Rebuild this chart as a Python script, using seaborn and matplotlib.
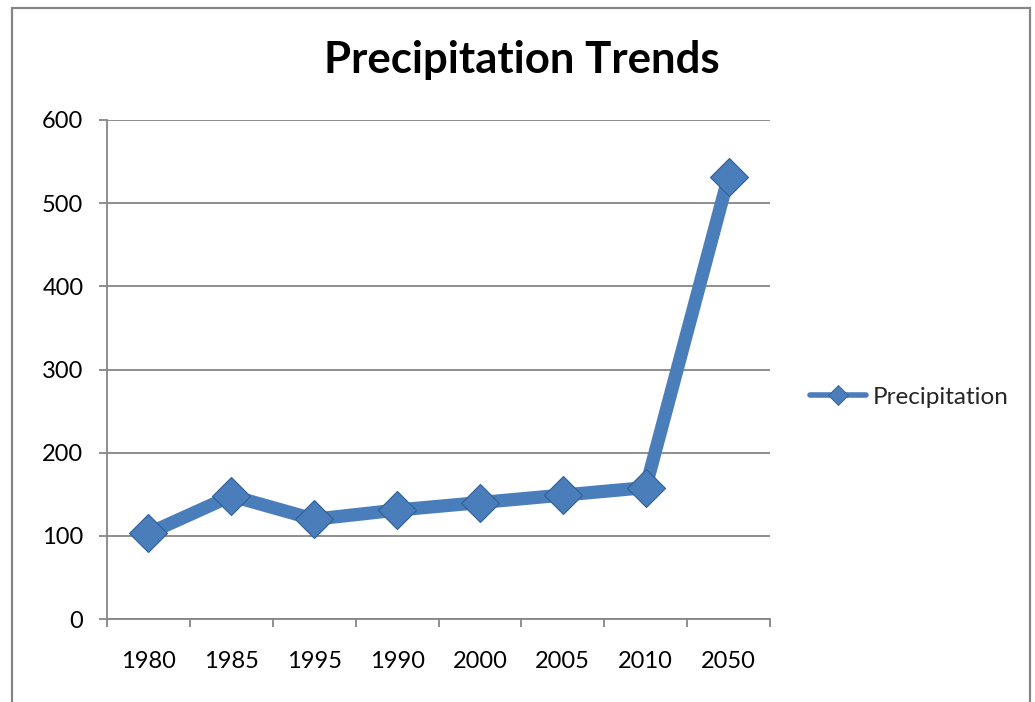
import matplotlib
matplotlib.use("Agg")
import matplotlib.pyplot as plt
from matplotlib.patches import Rectangle
from matplotlib.lines import Line2D
import numpy as np
import pandas as pd
import seaborn as sns

# Series data
years = ["1980", "1985", "1995", "1990", "2000", "2005", "2010", "2050"]
precipitation = [103, 148, 120, 131, 140, 149, 158, 532]
series_name = "Precipitation"
y_ticks = [0, 100, 200, 300, 400, 500, 600]

sns.set_theme(style="white")
plt.rcParams["font.family"] = ["Lato", "DejaVu Sans"]

blue = "#4A7EBB"
edge = "#2E5E96"
grey = "#868686"

fig = plt.figure(figsize=(10.35, 7.02), dpi=100)
fig.patch.set_facecolor("white")

# chart-area border
fig.patches.append(Rectangle((12 / 1035, -0.05), (1030 - 12) / 1035, 1 - 8 / 702 + 0.05,
                             transform=fig.transFigure, fill=False,
                             edgecolor=grey, linewidth=1.6, zorder=0))

ax = fig.add_axes([107 / 1035, (702 - 619) / 702, (770 - 107) / 1035, (619 - 120) / 702])

df = pd.DataFrame({"year": years, "value": precipitation})
sns.pointplot(data=df, x="year", y="value", order=years, color=blue,
              markers="D", markersize=19, linewidth=9.5, ax=ax,
              markeredgecolor=edge, markeredgewidth=0.8)

# axis scales
ax.set_ylim(0, 600)
ax.set_yticks(y_ticks)
ax.set_yticklabels([str(v) for v in y_ticks])
ax.set_xlim(-0.5, len(years) - 0.5)
ax.set_xticks(np.arange(-0.5, len(years), 1.0))
ax.set_xticklabels([])
ax.set_xticks(np.arange(len(years)), minor=True)
ax.set_xticklabels(years, minor=True)
ax.set_xlabel("")
ax.set_ylabel("")

ax.grid(axis="y", color=grey, linewidth=1.3)
ax.grid(axis="x", visible=False)
ax.set_axisbelow(True)

for side in ["top", "right"]:
    ax.spines[side].set_visible(False)
for side in ["left", "bottom"]:
    ax.spines[side].set_color(grey)
    ax.spines[side].set_linewidth(1.3)

ax.tick_params(axis="y", which="major", left=True, length=6, width=1.3, color=grey,
               pad=11, labelsize=17, labelcolor="black")
ax.tick_params(axis="x", which="major", bottom=True, length=6, width=1.3, color=grey,
               direction="out")
ax.tick_params(axis="x", which="minor", bottom=True, length=0, pad=23,
               labelsize=17, labelcolor="black")

fig.text(522 / 1035, 1 - 60 / 702, "Precipitation Trends", ha="center", va="center",
         fontsize=31.5, fontweight="bold", color="black")

handle = Line2D([], [], color=blue, linewidth=4, marker="D", markersize=10,
                markerfacecolor=blue, markeredgecolor=edge, markeredgewidth=0.6)
fig.legend([handle], [series_name], loc="center left",
           bbox_to_anchor=(788 / 1035, 1 - 397 / 702), frameon=False,
           fontsize=17.5, handlelength=2.3, handletextpad=0.3)

fig.savefig("out.png", dpi=100, facecolor="white")
